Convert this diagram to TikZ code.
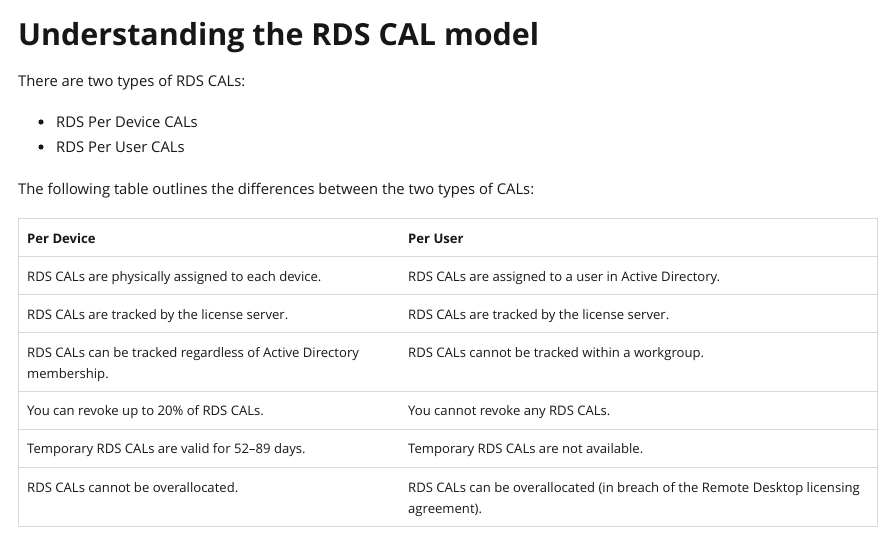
\documentclass[tikz,border=0pt]{standalone}
\usepackage{fontspec}
\setmainfont{Open Sans}
\usetikzlibrary{positioning}
\definecolor{ink}{HTML}{171717}
\definecolor{rule}{HTML}{D9D9D9}
\newcommand{\twolines}[2]{\vtop{\baselineskip=21pt\hbox{#1}\hbox{#2}}}

\begin{document}
\begin{tikzpicture}[x=1pt,y=-1pt,
txt/.style={anchor=base west,inner sep=0pt,text=ink,font=\fontsize{14.8}{18}\selectfont},
cell/.style={anchor=base west,inner sep=0pt,text=ink,font=\fontsize{13.1}{21}\selectfont},
head/.style={cell,font=\fontsize{13.1}{21}\selectfont\bfseries},
hline/.style={draw=rule,line width=1pt}
]
\useasboundingbox (0,0) rectangle (891,541);
\node[anchor=base west,inner sep=0pt,text=ink,font=\fontsize{30.4}{36}\selectfont\bfseries] (title) at (18,45) {Understanding the RDS CAL model};
\node[txt] (intro) at (18,86) {There are two types of RDS CALs:};
\foreach \y/\t/\n in {127/RDS Per Device CALs/b1,152/RDS Per User CALs/b2}{
  \fill[ink] (41,\y-5) circle (2.6);
  \node[txt] (\n) at (56,\y) {\t};
}
\node[txt] (lead) at (18,194) {The following table outlines the differences between the two types of CALs:};
% table
\draw[hline] (18,218) rectangle (877,526);
\foreach \y in {256,294,332,391,429,467}
  \draw[hline] (18,\y) -- (877,\y);
\node[head] (h1) at (27,243) {Per Device};
\node[head] (h2) at (408,243) {Per User};
\node[cell] (a1) at (27,281) {RDS CALs are physically assigned to each device.};
\node[cell] (b1) at (408,281) {RDS CALs are assigned to a user in Active Directory.};
\node[cell] (a2) at (27,319) {RDS CALs are tracked by the license server.};
\node[cell] (b2) at (408,319) {RDS CALs are tracked by the license server.};
\node[cell] (a3) at (27,357) {\twolines{RDS CALs can be tracked regardless of Active Directory}{membership.}};
\node[cell] (b3) at (408,357) {RDS CALs cannot be tracked within a workgroup.};
\node[cell] (a4) at (27,415) {You can revoke up to 20\% of RDS CALs.};
\node[cell] (b4) at (408,415) {You cannot revoke any RDS CALs.};
\node[cell] (a5) at (27,453) {Temporary RDS CALs are valid for 52–89 days.};
\node[cell] (b5) at (408,453) {Temporary RDS CALs are not available.};
\node[cell] (a6) at (27,492) {RDS CALs cannot be overallocated.};
\node[cell] (b6) at (408,492) {\twolines{RDS CALs can be overallocated (in breach of the Remote Desktop licensing}{agreement).}};
\end{tikzpicture}
\end{document}
